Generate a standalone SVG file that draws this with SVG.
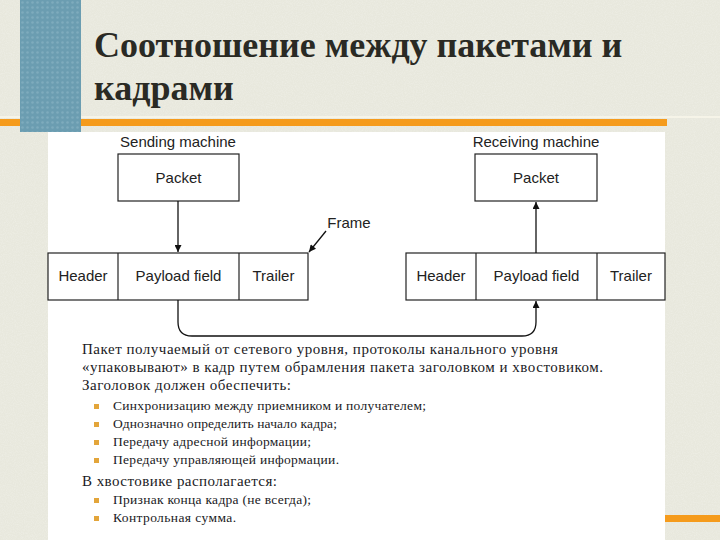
<svg xmlns="http://www.w3.org/2000/svg" width="720" height="540" viewBox="0 0 720 540">
<defs>
<marker id="ah" viewBox="0 0 10 10" refX="10" refY="5" markerWidth="9" markerHeight="7" markerUnits="userSpaceOnUse" orient="auto">
<path d="M0,0 L10,5 L0,10 z" fill="#111"/>
</marker>
<pattern id="dots" width="5" height="5" patternUnits="userSpaceOnUse">
<rect width="5" height="5" fill="#6b9db1"/>
<circle cx="2.5" cy="2.5" r="1.3" fill="#7eabbd"/>
</pattern>
<filter id="tex" x="0" y="0" width="100%" height="100%">
<feTurbulence type="fractalNoise" baseFrequency="0.9" numOctaves="2" seed="3" result="n"/>
<feColorMatrix in="n" type="matrix" values="0 0 0 0 1  0 0 0 0 1  0 0 0 0 1  0 0 0 -1.2 0.75" result="w"/>
<feComposite in="w" in2="SourceGraphic" operator="in"/>
</filter>
</defs>
<style>
.box{fill:#fff;stroke:#222;stroke-width:1.2}
.dl{font-family:"Liberation Sans",Arial,sans-serif;font-size:15px;fill:#222;text-anchor:middle}
.title{font-family:"Liberation Serif","Times New Roman",serif;font-size:36px;font-weight:bold;fill:#2a2a24}
.body{font-family:"Liberation Serif","Times New Roman",serif;font-size:15px;fill:#1a1a24}
.item{font-family:"Liberation Serif","Times New Roman",serif;font-size:13.5px;fill:#1a1a24}
.bul{fill:#e3a53a}
.conn{fill:none;stroke:#111;stroke-width:1.3}
</style>
<!-- background -->
<rect width="720" height="540" fill="#e8e8dd"/>
<rect width="720" height="540" fill="#e8e8dd" filter="url(#tex)" opacity="0.35"/>
<rect x="0" y="116" width="720" height="2" fill="#f6f4e8"/>
<rect x="0" y="119" width="667" height="7" fill="#f59b1c"/>
<rect x="20" y="0" width="61" height="132" fill="url(#dots)"/>
<rect x="48" y="132" width="617" height="408" fill="#ffffff"/>
<rect x="665" y="515" width="55" height="7" fill="#f59b1c"/>
<!-- title -->
<g id="title">
<text class="title" x="94" y="57">Соотношение между пакетами и</text>
<text class="title" x="94" y="100">кадрами</text>
</g>
<!-- diagram nodes -->
<g id="sending-machine">
<text class="dl" x="178" y="147">Sending machine</text>
</g>
<g id="packet-send">
<rect class="box" x="118" y="154" width="121" height="47"/>
<text class="dl" x="178.5" y="183">Packet</text>
</g>
<g id="frame-send">
<rect class="box" x="48" y="253" width="260" height="47"/>
<line x1="118" y1="253" x2="118" y2="300" stroke="#222" stroke-width="1.2"/>
<line x1="239" y1="253" x2="239" y2="300" stroke="#222" stroke-width="1.2"/>
<text class="dl" x="83" y="281">Header</text>
<text class="dl" x="178.5" y="281">Payload field</text>
<text class="dl" x="273.5" y="281">Trailer</text>
</g>
<g id="frame-label">
<text class="dl" x="349" y="228">Frame</text>
</g>
<g id="receiving-machine">
<text class="dl" x="536" y="147">Receiving machine</text>
</g>
<g id="packet-recv">
<rect class="box" x="475" y="154" width="122" height="47"/>
<text class="dl" x="536" y="183">Packet</text>
</g>
<g id="frame-recv">
<rect class="box" x="406" y="253" width="259" height="47"/>
<line x1="476" y1="253" x2="476" y2="300" stroke="#222" stroke-width="1.2"/>
<line x1="597" y1="253" x2="597" y2="300" stroke="#222" stroke-width="1.2"/>
<text class="dl" x="441" y="281">Header</text>
<text class="dl" x="536.5" y="281">Payload field</text>
<text class="dl" x="631" y="281">Trailer</text>
</g>
<!-- connectors -->
<g id="connectors">
<line class="conn" x1="178" y1="201" x2="178" y2="252" marker-end="url(#ah)"/>
<line class="conn" x1="536" y1="253" x2="536" y2="202" marker-end="url(#ah)"/>
<line class="conn" x1="326" y1="231" x2="309" y2="252" marker-end="url(#ah)"/>
<path class="conn" d="M178,300 V322 Q178,336 192,336 H522 Q536,336 536,322 V301" marker-end="url(#ah)"/>
</g>
<!-- body text -->
<g id="body-text">
<text class="body" x="82" y="354" textLength="476">Пакет получаемый от сетевого уровня, протоколы канального уровня</text>
<text class="body" x="82" y="372" textLength="521">«упаковывают» в кадр путем обрамления пакета заголовком и хвостовиком.</text>
<text class="body" x="82" y="390" textLength="209">Заголовок должен обеспечить:</text>
<rect class="bul" x="94" y="404" width="5" height="5"/>
<text class="item" x="113" y="410" textLength="313">Синхронизацию между приемником и получателем;</text>
<rect class="bul" x="94" y="422" width="5" height="5"/>
<text class="item" x="113" y="428" textLength="224">Однозначно определить начало кадра;</text>
<rect class="bul" x="94" y="440" width="5" height="5"/>
<text class="item" x="113" y="446" textLength="198">Передачу адресной информации;</text>
<rect class="bul" x="94" y="458" width="5" height="5"/>
<text class="item" x="113" y="464" textLength="226">Передачу управляющей информации.</text>
<text class="body" x="82" y="486" textLength="195">В хвостовике располагается:</text>
<rect class="bul" x="94" y="498" width="5" height="5"/>
<text class="item" x="113" y="504" textLength="198">Признак конца кадра (не всегда);</text>
<rect class="bul" x="94" y="516" width="5" height="5"/>
<text class="item" x="113" y="522" textLength="123">Контрольная сумма.</text>
</g>
</svg>
